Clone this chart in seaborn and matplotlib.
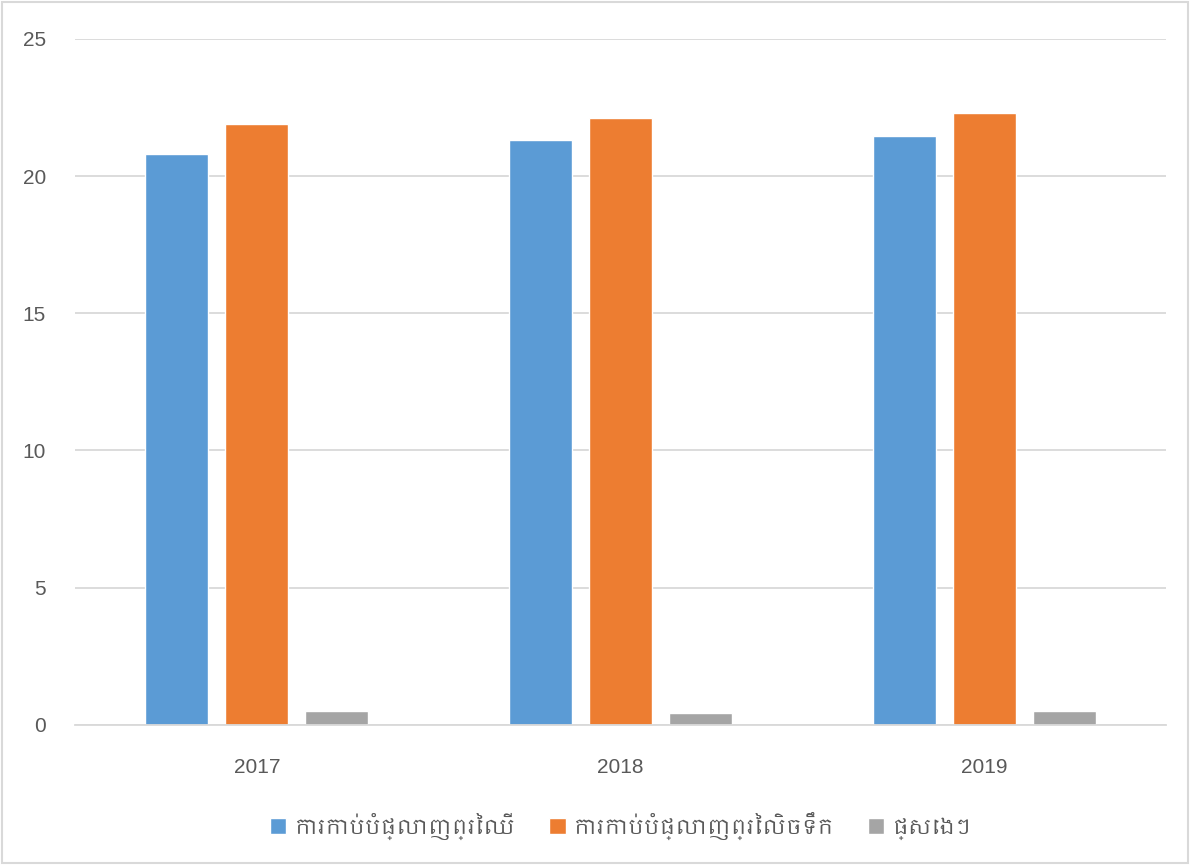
import pandas as pd
import seaborn as sns
import matplotlib.pyplot as plt
from matplotlib import font_manager

# data
years = ['2017', '2018', '2019']
series = ['ការកាប់បំផ្លាញព្រៃឈើ', 'ការកាប់បំផ្លាញព្រៃលិចទឹក', 'ផ្សេងៗ']
forest = [20.8, 21.3, 21.45]
flooded_forest = [21.9, 22.1, 22.3]
other = [0.5, 0.45, 0.5]
colors = ['#5B9BD5', '#ED7D31', '#A5A5A5']

df = pd.DataFrame({
    'year': years * 3,
    'series': [series[0]] * 3 + [series[1]] * 3 + [series[2]] * 3,
    'value': forest + flooded_forest + other,
})

sns.set_style('white')
# pick a Khmer-capable font if one happens to be installed
khmer = [f.name for f in font_manager.fontManager.ttflist if 'Khmer' in f.name]
plt.rcParams['font.family'] = khmer[:1] + ['DejaVu Sans']

fig = plt.figure(figsize=(11.9, 8.65), dpi=100)
ax = fig.add_axes([0.063, 0.162, 0.917, 0.793])
sns.barplot(df, x='year', y='value', hue='series', palette=colors,
            width=0.66, gap=0.21, ax=ax, saturation=1, legend=True)

ax.set_ylim(0, 25)
ax.set_xlim(-0.5, 2.5)
ax.set_yticks([0, 5, 10, 15, 20, 25])
ax.yaxis.grid(True, color='#d9d9d9', linewidth=1.3)
ax.set_axisbelow(True)
for s in ['top', 'right', 'left']:
    ax.spines[s].set_visible(False)
ax.spines['bottom'].set_color('#d9d9d9')
ax.spines['bottom'].set_linewidth(1.3)
ax.tick_params(axis='y', length=0, pad=21, labelsize=15, labelcolor='#595959')
ax.tick_params(axis='x', length=0, pad=24, labelsize=15, labelcolor='#595959')
for lab in ax.get_xticklabels() + ax.get_yticklabels():
    lab.set_fontfamily('Liberation Sans')
ax.set_xlabel('')
ax.set_ylabel('')

ax.legend(loc='center', bbox_to_anchor=(0.5, -0.147), ncol=3, frameon=False,
          fontsize=15, labelcolor='#595959', handlelength=0.8, handleheight=0.8,
          columnspacing=1.6, handletextpad=0.4)

fig.patches.append(plt.Rectangle((0.002, 0.002), 0.996, 0.996, transform=fig.transFigure,
                                 fill=False, edgecolor='#d9d9d9', linewidth=1.5))
plt.savefig('out.png', dpi=100)
